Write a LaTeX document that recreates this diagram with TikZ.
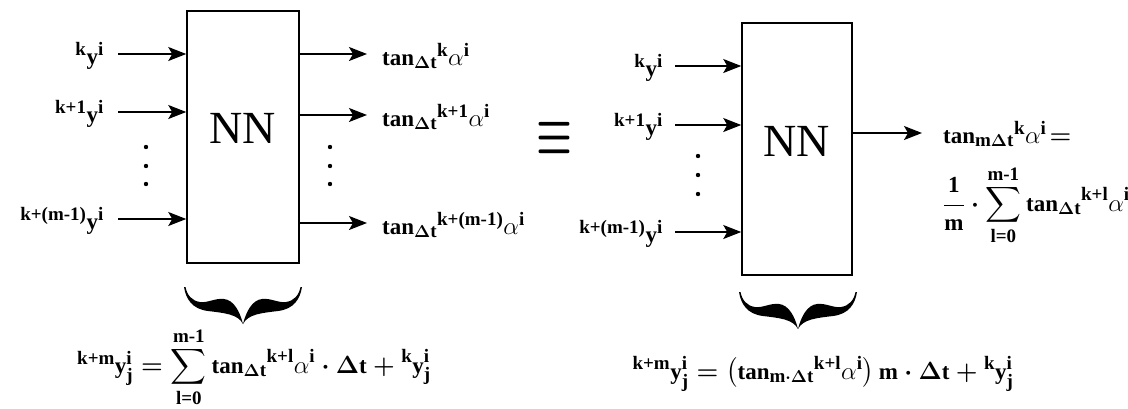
\documentclass[tikz,border=0pt]{standalone}
\usepackage{amsmath}
\usepackage{graphicx}
\usepackage{fontspec}
\setmainfont{Liberation Serif}
\usetikzlibrary{arrows.meta}
\DeclareMathSizes{23}{23}{19}{15}
\newcommand{\al}{\text{\unboldmath$\alpha$}}
\newcommand{\mb}[1]{\text{\bfseries #1}}
\tikzset{
  mbrace/.pic={
    \fill (0,0) .. controls (2,12) and (8,22) .. (24,24) .. controls (40,26) and (54,27) .. (59,37)
      .. controls (56,25) and (50,13) .. (40,12) .. controls (30,11) and (25,16) .. (16,15)
      .. controls (8,14) and (3,8) .. (1.5,0) -- cycle;
    \fill (118,0) .. controls (116,12) and (110,22) .. (94,24) .. controls (78,26) and (64,27) .. (59,37)
      .. controls (62,25) and (68,13) .. (78,12) .. controls (88,11) and (93,16) .. (102,15)
      .. controls (110,14) and (115,8) .. (116.5,0) -- cycle;
  }
}
\begin{document}
\begin{tikzpicture}[x=1pt,y=-1pt,
  lab/.style={inner sep=0pt, font=\fontsize{23}{27}\selectfont\boldmath},
  nnbox/.style={draw, line width=1.5pt, minimum height=252pt, inner sep=0pt},
  nnt/.style={inner sep=0pt, font=\fontsize{46}{50}\selectfont},
  arr/.style={line width=1.3pt, -{Stealth[length=18pt,width=14pt,inset=4pt]}},
  dot/.style={fill=black}
]
\useasboundingbox[fill=white] (0,0) rectangle (1128,408);

% ---------- left block ----------
\node[nnbox, minimum width=112pt] (nn1) at (243,137) {};
\node[nnt] (nn1t) at (243,128) {NN};

\coordinate (a1) at (118,54);
\coordinate (a2) at (118,112);
\coordinate (a3) at (118,219);
\node[lab, anchor=east] (x1) at (104,56) {${}^{\mb{k}}\mb{y}^{\mb{i}}$};
\node[lab, anchor=east] (x2) at (104,114) {${}^{\mb{k+1}}\mb{y}^{\mb{i}}$};
\node[lab, anchor=east] (x3) at (104,221) {${}^{\mb{k+(m-1)}}\mb{y}^{\mb{i}}$};
\draw[arr] (a1) -- (a1 -| nn1.west);
\draw[arr] (a2) -- (a2 -| nn1.west);
\draw[arr] (a3) -- (a3 -| nn1.west);
\foreach \yy in {147,166,184} \fill[dot] (146,\yy) circle (2.2pt);

\coordinate (e1) at (367,54);
\coordinate (e2) at (367,115);
\coordinate (e3) at (367,223);
\draw[arr] (e1 -| nn1.east) -- (e1);
\draw[arr] (e2 -| nn1.east) -- (e2);
\draw[arr] (e3 -| nn1.east) -- (e3);
\node[lab, anchor=west] (o1) at (382,56) {$\mb{tan}_{\Delta\mb{t}}{}^{\mb{k}}\al^{\mb{i}}$};
\node[lab, anchor=west] (o2) at (382,117) {$\mb{tan}_{\Delta\mb{t}}{}^{\mb{k+1}}\al^{\mb{i}}$};
\node[lab, anchor=west] (o3) at (382,225) {$\mb{tan}_{\Delta\mb{t}}{}^{\mb{k+(m-1)}}\al^{\mb{i}}$};
\foreach \yy in {147,166,184} \fill[dot] (330,\yy) circle (2.2pt);

\pic at (184,287) {mbrace};
\node[lab] (f1) at (254,367) {${}^{\mb{k+m}}\mb{y}^{\mb{i}}_{\mb{j}} = \displaystyle\sum_{\mb{l=0}}^{\mb{m-1}}\mb{tan}_{\Delta\mb{t}}{}^{\mb{k+l}}\al^{\mb{i}}\cdot\Delta\mb{t}+{}^{\mb{k}}\mb{y}^{\mb{i}}_{\mb{j}}$};

% ---------- equivalence ----------
\node[inner sep=0pt] (eq) at (555,138) {\resizebox{36pt}{31pt}{\boldmath$\equiv$}};

% ---------- right block ----------
\node[nnbox, minimum width=110pt] (nn2) at (797,149) {};
\node[nnt] (nn2t) at (797,141) {NN};

\coordinate (b1) at (675,66);
\coordinate (b2) at (675,125);
\coordinate (b3) at (675,232);
\node[lab, anchor=east] (y1) at (663,68) {${}^{\mb{k}}\mb{y}^{\mb{i}}$};
\node[lab, anchor=east] (y2) at (663,127) {${}^{\mb{k+1}}\mb{y}^{\mb{i}}$};
\node[lab, anchor=east] (y3) at (663,234) {${}^{\mb{k+(m-1)}}\mb{y}^{\mb{i}}$};
\draw[arr] (b1) -- (b1 -| nn2.west);
\draw[arr] (b2) -- (b2 -| nn2.west);
\draw[arr] (b3) -- (b3 -| nn2.west);
\foreach \yy in {156,175,194} \fill[dot] (698,\yy) circle (2.2pt);

\coordinate (g1) at (922,133);
\draw[arr] (g1 -| nn2.east) -- (g1);
\node[lab, anchor=west] (p1) at (943,134) {$\mb{tan}_{\mb{m}\Delta\mb{t}}{}^{\mb{k}}\al^{\mb{i}}\!=$};
\node[lab, anchor=west] (p2) at (943,205) {$\dfrac{\mb{1}}{\mb{m}}\cdot\displaystyle\sum_{\mb{l=0}}^{\mb{m-1}}\mb{tan}_{\Delta\mb{t}}{}^{\mb{k+l}}\al^{\mb{i}}$};

\pic at (739,292) {mbrace};
\node[lab] (f2) at (823,374) {${}^{\mb{k+m}}\mb{y}^{\mb{i}}_{\mb{j}} = \left(\mb{tan}_{\mb{m}\cdot\Delta\mb{t}}{}^{\mb{k+l}}\al^{\mb{i}}\right)\mb{m}\cdot\Delta\mb{t}+{}^{\mb{k}}\mb{y}^{\mb{i}}_{\mb{j}}$};
\end{tikzpicture}
\end{document}
